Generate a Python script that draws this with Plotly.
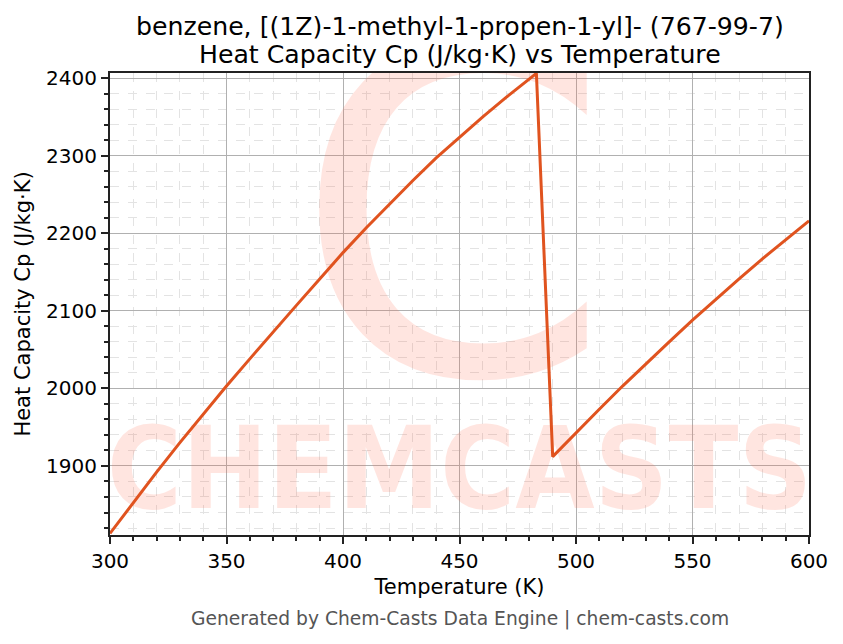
import plotly.graph_objects as go

# Heat capacity Cp (J/kg·K)
temp_k = [300, 310, 320, 330, 340, 350, 360, 370, 380, 390, 400, 410, 420, 430, 440,
          450, 460, 470, 480, 483,
          490, 500, 510, 520, 530, 540, 550, 560, 570, 580, 590, 600]
cp = [1813, 1853, 1892, 1930, 1967, 2003, 2038, 2073, 2107, 2141, 2175, 2207, 2238, 2268, 2297,
      2324, 2350, 2375, 2399, 2406,
      1912, 1943, 1973, 2003, 2032, 2060, 2088, 2115, 2141, 2167, 2192, 2216]

x_range = [300, 600]
y_range = [1811, 2406.5]

title_lines = ["benzene, [(1Z)-1-methyl-1-propen-1-yl]- (767-99-7)",
               "Heat Capacity Cp (J/kg·K) vs Temperature"]
footer_text = "Generated by Chem-Casts Data Engine | chem-casts.com"
watermark_word = "CHEMCASTS"
watermark_logo = "C"

line_color = "#E0531F"
wm_color = "rgba(255,99,71,0.17)"
font_main = "DejaVu Sans, Verdana, sans-serif"


def frac(r, f):
    return r[0] + (r[1] - r[0]) * f


fig = go.Figure()

# watermark drawn first so the curve sits on top of it
fig.add_trace(go.Scatter(
    x=[frac(x_range, 0.49)], y=[frac(y_range, 0.595)],
    mode="text", text=[watermark_logo],
    textfont=dict(family="DejaVu Sans", size=455, color=wm_color),
    hoverinfo="skip", showlegend=False
))
fig.add_trace(go.Scatter(
    x=[frac(x_range, 0.5)], y=[frac(y_range, 0.12)],
    mode="text", text=[watermark_word],
    textfont=dict(family="Liberation Sans Narrow, DejaVu Sans Condensed, DejaVu Sans",
                  size=114, color=wm_color, weight="bold"),
    hoverinfo="skip", showlegend=False
))

fig.add_trace(go.Scatter(
    x=temp_k, y=cp, mode="lines",
    line=dict(color=line_color, width=3),
    showlegend=False
))

axis_common = dict(
    showline=True, linecolor="#222222", linewidth=2, mirror=True,
    ticks="outside", ticklen=7, tickwidth=1.5, tickcolor="#222222",
    showgrid=True, gridcolor="#b0b0b0", gridwidth=1,
    zeroline=False,
    tickfont=dict(family=font_main, size=20, color="black"),
)

fig.update_xaxes(
    range=x_range, dtick=50, tick0=300,
    minor=dict(dtick=10, ticks="outside", ticklen=4, tickcolor="#222222",
               showgrid=True, gridcolor="#e3e3e3", griddash="dash", gridwidth=1),
    title=dict(text="Temperature (K)", font=dict(family=font_main, size=21, color="black"), standoff=7),
    **axis_common
)
fig.update_yaxes(
    range=y_range, dtick=100, tick0=1900,
    minor=dict(dtick=20, ticks="outside", ticklen=4, tickcolor="#222222",
               showgrid=True, gridcolor="#e3e3e3", griddash="dash", gridwidth=1),
    title=dict(text="Heat Capacity Cp (J/kg·K)", font=dict(family=font_main, size=21, color="black"), standoff=10),
    **axis_common
)

# the page body adds an 8px offset, so the margins are shifted by that amount
fig.update_layout(
    width=843, height=644,
    margin=dict(l=102, r=42, t=65, b=117),
    paper_bgcolor="white", plot_bgcolor="white",
    annotations=[
        dict(text=title_lines[0], xref="paper", yref="paper", x=0.5, y=1.0996,
             xanchor="center", yanchor="middle", showarrow=False,
             font=dict(family=font_main, size=25.2, color="black")),
        dict(text=title_lines[1], xref="paper", yref="paper", x=0.5, y=1.041,
             xanchor="center", yanchor="middle", showarrow=False,
             font=dict(family=font_main, size=25.2, color="black")),
        dict(text=footer_text, xref="paper", yref="paper", x=0.5, y=-0.182,
             xanchor="center", yanchor="middle", showarrow=False,
             font=dict(family=font_main, size=18.7, color="#555555")),
    ]
)

fig.write_html("out.html")
